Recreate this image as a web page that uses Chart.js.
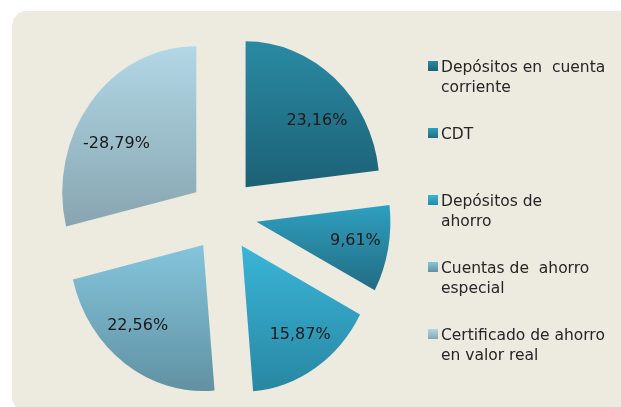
<!DOCTYPE html>
<html>
<head>
<meta charset="utf-8">
<script src="https://cdn.jsdelivr.net/npm/chart.js@4.4.0/dist/chart.umd.min.js"></script>
<style>
  html, body { margin: 0; padding: 0; background: #fff; overflow: hidden; width: 621px; height: 407px; }
  #marco { position: absolute; left: 12px; top: 11px; width: 640px; height: 401px; background: #edeae0; border-radius: 15px; }
  #torta { position: absolute; left: 0; top: 0; }
</style>
</head>
<body>
<div id="marco"></div>
<canvas id="torta" width="621" height="407"></canvas>
<script>
// datos de la torta
const categorias = [
  ["Depósitos en  cuenta", "corriente"],
  ["CDT"],
  ["Depósitos de", "ahorro"],
  ["Cuentas de  ahorro", "especial"],
  ["Certificado de ahorro", "en valor real"],
];
const valores = [23.16, 9.61, 15.87, 22.56, -28.79];

const coloresArriba = ["#2a8aa3", "#2f9fbf", "#3ab5d8", "#84c5dc", "#b2d7e5"];
const coloresAbajo = ["#1c6176", "#216c83", "#2887a2", "#6191a3", "#87a5b1"];

// ajustes de forma
const ESCALA_X = 0.918;   // la torta original esta algo achatada
const SEPARACION = 37;    // porciones separadas del centro
const ajusteAngulo = [7.8, -0.8, -2.1, 5.6, -9.3];
const distEtiqueta = [0.70, 0.75, 0.75, 0.74, 0.68];

const fuente = "'DejaVu Sans', sans-serif";

function formato(v) {
  return v.toFixed(2).replace(".", ",") + "%";
}

function angulos(i) {
  const total = valores.reduce((a, v) => a + Math.abs(v), 0);
  let ini = -Math.PI / 2;
  for (let k = 0; k < i; k++) ini += 2 * Math.PI * Math.abs(valores[k]) / total;
  const fin = ini + 2 * Math.PI * Math.abs(valores[i]) / total;
  return [ini, fin];
}

function degradado(c) {
  const chart = c.chart;
  const area = chart.chartArea;
  const i = c.dataIndex;
  if (!area) return coloresArriba[i];
  const cy = (area.top + area.bottom) / 2;
  const r = Math.min(area.width, area.height) / 2;
  const [ini, fin] = angulos(i);
  const ys = [cy, cy + r * Math.sin(ini), cy + r * Math.sin(fin)];
  if (ini <= Math.PI / 2 && fin >= Math.PI / 2) ys.push(cy + r);
  const g = chart.ctx.createLinearGradient(0, Math.min(...ys), 0, Math.max(...ys));
  g.addColorStop(0, coloresArriba[i]);
  g.addColorStop(1, coloresAbajo[i]);
  return g;
}

const explotar = {
  id: "explotar",
  beforeDatasetsDraw(chart) {
    const ctx = chart.ctx;
    chart.getDatasetMeta(0).data.forEach((arc) => {
      const mid = (arc.startAngle + arc.endAngle) / 2;
      ctx.save();
      ctx.translate(arc.x, arc.y);
      ctx.scale(ESCALA_X, 1);
      ctx.translate(Math.cos(mid) * SEPARACION, Math.sin(mid) * SEPARACION);
      ctx.translate(-arc.x, -arc.y);
      arc.draw(ctx);
      ctx.restore();
    });
    return false;
  },
  afterDraw(chart) {
    const ctx = chart.ctx;
    // etiquetas de porcentaje
    ctx.save();
    ctx.font = "16px " + fuente;
    ctx.fillStyle = "#1a1a1a";
    ctx.textAlign = "center";
    ctx.textBaseline = "middle";
    chart.getDatasetMeta(0).data.forEach((arc, i) => {
      const mid = (arc.startAngle + arc.endAngle) / 2;
      const ang = mid + ajusteAngulo[i] * Math.PI / 180;
      const d = distEtiqueta[i] * arc.outerRadius;
      const x = arc.x + ESCALA_X * (Math.cos(mid) * SEPARACION + Math.cos(ang) * d);
      const y = arc.y + Math.sin(mid) * SEPARACION + Math.sin(ang) * d;
      ctx.fillText(formato(valores[i]), x, y);
    });
    ctx.restore();

    // leyenda a la derecha
    ctx.save();
    ctx.font = "15.5px " + fuente;
    ctx.textAlign = "left";
    ctx.textBaseline = "alphabetic";
    categorias.forEach((lineas, i) => {
      const y = 61 + i * 67;
      const g = ctx.createLinearGradient(0, y, 0, y + 10);
      g.addColorStop(0, coloresArriba[i]);
      g.addColorStop(1, coloresAbajo[i]);
      ctx.fillStyle = g;
      ctx.fillRect(428, y, 10, 10);
      ctx.fillStyle = "#262626";
      lineas.forEach((t, k) => ctx.fillText(t, 441, y + 11 + k * 20));
    });
    ctx.restore();
  },
};

new Chart(document.getElementById("torta"), {
  type: "pie",
  data: {
    labels: categorias,
    datasets: [
      {
        data: valores,
        backgroundColor: degradado,
        borderWidth: 0,
      },
    ],
  },
  options: {
    responsive: false,
    animation: false,
    layout: { padding: { left: 77, right: 252, top: 69, bottom: 46 } },
    plugins: {
      legend: { display: false },
      tooltip: { enabled: false },
    },
  },
  plugins: [explotar],
});
</script>
</body>
</html>
